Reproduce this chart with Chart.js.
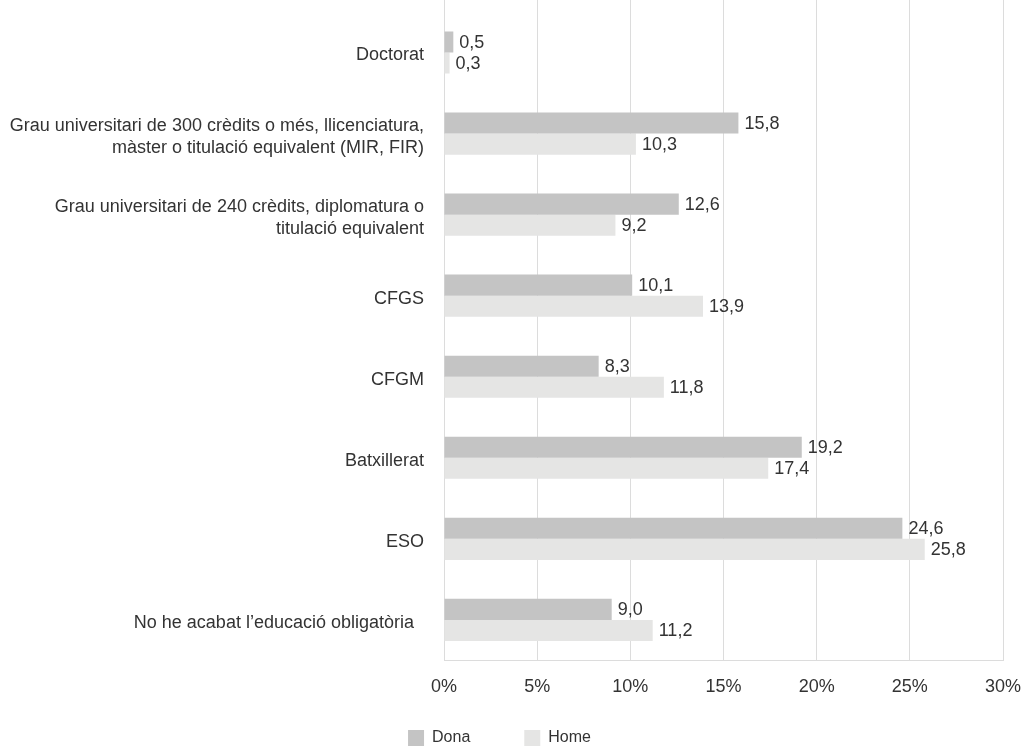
<!DOCTYPE html>
<html>
<head>
<meta charset="utf-8">
<script src="https://cdn.jsdelivr.net/npm/chart.js@4"></script>
<style>
  body { margin: 0; background: #fff; }
  canvas { display: block; }
</style>
</head>
<body>
<canvas id="chart" width="1021" height="746"></canvas>
<script>
// Categories (top to bottom) and series values
var categories = [
    ['Doctorat'],
    ['Grau universitari de 300 crèdits o més, llicenciatura,', 'màster o titulació equivalent (MIR, FIR)'],
    ['Grau universitari de 240 crèdits, diplomatura o', 'titulació equivalent'],
    ['CFGS'],
    ['CFGM'],
    ['Batxillerat'],
    ['ESO'],
    ['No he acabat l\u2019educació obligatòria  ']
];
var dona = [0.5, 15.8, 12.6, 10.1, 8.3, 19.2, 24.6, 9.0];
var home = [0.3, 10.3, 9.2, 13.9, 11.8, 17.4, 25.8, 11.2];
var xTicks = [0, 5, 10, 15, 20, 25, 30];

var textColor = '#333333';
var gridColor = '#dcdcdc';
var fontFamily = '"Liberation Sans", Arial, Helvetica, sans-serif';

// value labels at the end of each bar
var valueLabels = {
    id: 'valueLabels',
    afterDatasetsDraw: function(chart) {
        var ctx = chart.ctx;
        ctx.save();
        ctx.font = '18px ' + fontFamily;
        ctx.fillStyle = textColor;
        ctx.textAlign = 'left';
        ctx.textBaseline = 'middle';
        chart.data.datasets.forEach(function(ds, i) {
            chart.getDatasetMeta(i).data.forEach(function(bar, j) {
                var txt = ds.data[j].toFixed(1).replace('.', ',');
                ctx.fillText(txt, bar.x + 6, bar.y + 1);
            });
        });
        ctx.restore();
    }
};

// grid lines run up to the top edge, legend pulled back into view
var extras = {
    id: 'extras',
    afterLayout: function(chart) {
        chart.legend.top -= 38;
        chart.legend.bottom -= 38;
        chart.legend.left -= 2;
        chart.legend.right -= 2;
    },
    beforeDatasetsDraw: function(chart) {
        var ctx = chart.ctx;
        var x = chart.scales.x;
        ctx.save();
        ctx.strokeStyle = gridColor;
        ctx.lineWidth = 1;
        xTicks.forEach(function(v) {
            var px = Math.round(x.getPixelForValue(v) - 0.5) + 0.5;
            ctx.beginPath();
            ctx.moveTo(px, 0);
            ctx.lineTo(px, chart.chartArea.top);
            ctx.stroke();
        });
        ctx.restore();
    }
};

var ctx = document.getElementById('chart').getContext('2d');
var chart = new Chart(ctx, {
    type: 'bar',
    data: {
        labels: categories,
        datasets: [
            { label: 'Dona', data: dona, backgroundColor: '#c4c4c4' },
            { label: 'Home', data: home, backgroundColor: '#e5e5e4' }
        ]
    },
    options: {
        indexAxis: 'y',
        responsive: false,
        animation: false,
        barPercentage: 1,
        categoryPercentage: 0.52,
        layout: { padding: { top: 12, right: 18, left: 0, bottom: -48 } },
        scales: {
            x: {
                min: 0,
                max: 30,
                afterFit: function(axis) {
                    axis.paddingLeft = 0;
                    axis.paddingRight = 0;
                },
                ticks: {
                    stepSize: 5,
                    color: textColor,
                    padding: 16,
                    font: { family: fontFamily, size: 18 },
                    callback: function(v) { return v + '%'; }
                },
                grid: { color: gridColor, drawTicks: false },
                border: { color: gridColor }
            },
            y: {
                afterFit: function(axis) {
                    axis.width = 444;
                    axis.paddingTop = 0;
                    axis.paddingBottom = 0;
                },
                ticks: {
                    color: textColor,
                    padding: 20,
                    labelOffset: 3,
                    font: { family: fontFamily, size: 18, lineHeight: 1.22 }
                },
                grid: { display: false, drawTicks: false },
                border: { color: gridColor }
            }
        },
        plugins: {
            legend: {
                position: 'bottom',
                labels: {
                    color: textColor,
                    boxWidth: 16,
                    boxHeight: 16,
                    padding: 54,
                    font: { family: fontFamily, size: 16 }
                }
            },
            tooltip: { enabled: false }
        }
    },
    plugins: [valueLabels, extras]
});
</script>
</body>
</html>
